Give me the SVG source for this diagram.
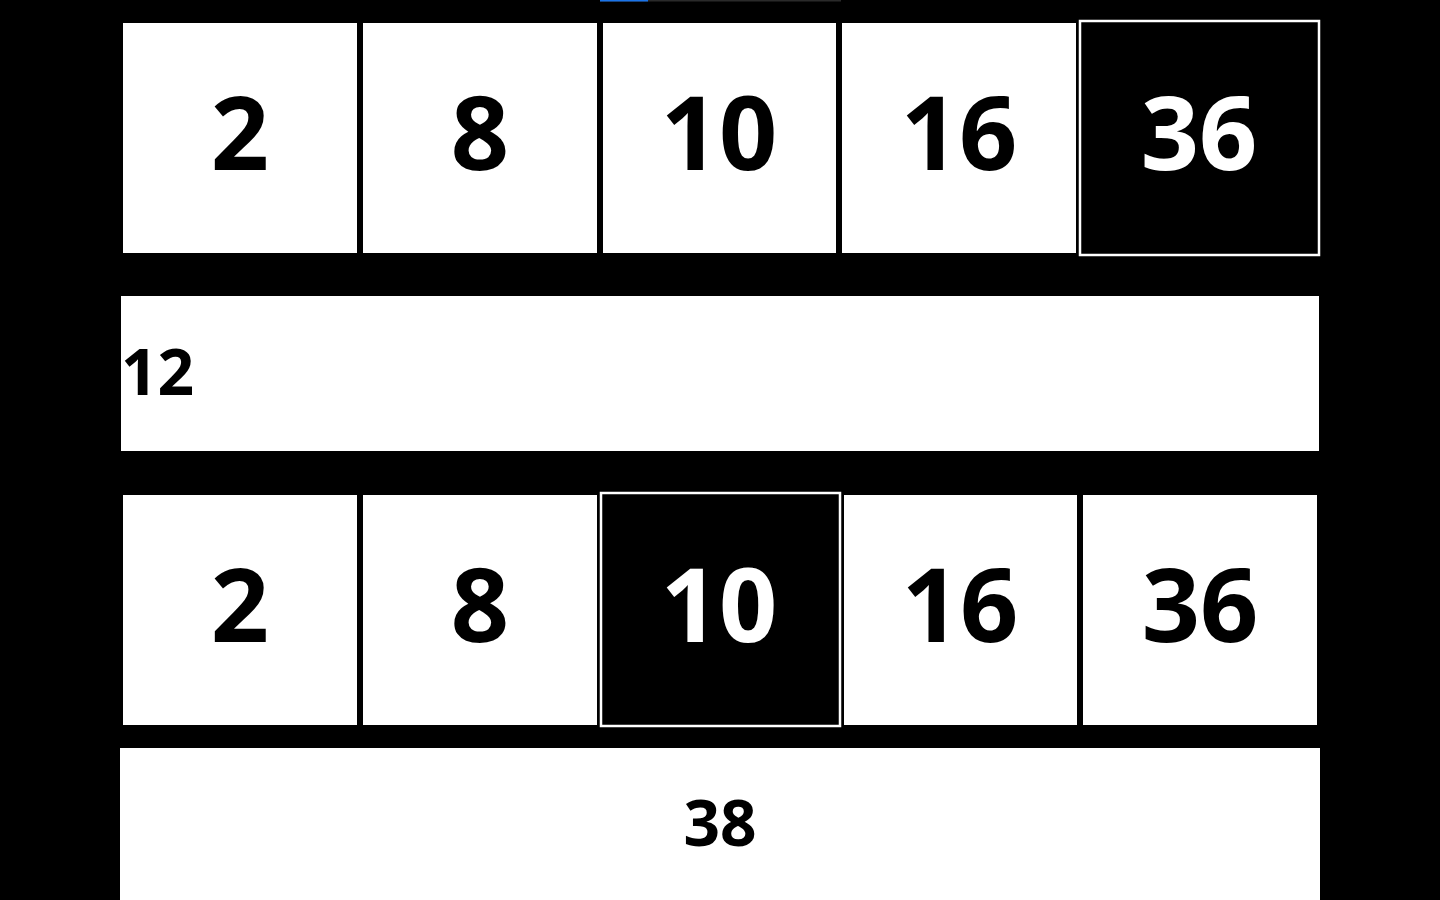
<svg xmlns="http://www.w3.org/2000/svg" width="1440" height="900" viewBox="0 0 1440 900">
<style>
.cell{fill:#ffffff}
.hl{fill:#000000;stroke:#ffffff;stroke-width:2.5}
.num{font-family:"Noto Sans","DejaVu Sans",sans-serif;font-weight:700;font-size:102px;text-anchor:middle;fill:#000}
.numw{fill:#fff}
.bar{fill:#ffffff}
.lbl{font-family:"Noto Sans","DejaVu Sans",sans-serif;font-weight:700;font-size:64px;fill:#000}
</style>
<rect x="0" y="0" width="1440" height="900" fill="#000"/>
<g id="progress">
<rect x="600" y="0" width="241" height="1.5" fill="#2a2a2a"/>
<rect x="600" y="0" width="48" height="1.5" fill="#1a73e8"/>
</g>
<g id="row1">
<g id="r1c1"><rect class="cell" x="123" y="23" width="234" height="230"/><text class="num" x="240" y="170">2</text></g>
<g id="r1c2"><rect class="cell" x="363" y="23" width="234" height="230"/><text class="num" x="480" y="170">8</text></g>
<g id="r1c3"><rect class="cell" x="603" y="23" width="233" height="230"/><text class="num" x="719" y="170">10</text></g>
<g id="r1c4"><rect class="cell" x="842" y="23" width="234" height="230"/><text class="num" x="959" y="170">16</text></g>
<g id="r1c5"><rect class="hl" x="1080" y="21" width="239" height="234"/><text class="num numw" x="1199" y="170">36</text></g>
</g>
<g id="sum1"><rect class="bar" x="121" y="296" width="1198" height="155"/><text class="lbl" x="121" y="395">12</text></g>
<g id="row2">
<g id="r2c1"><rect class="cell" x="123" y="495" width="234" height="230"/><text class="num" x="240" y="642">2</text></g>
<g id="r2c2"><rect class="cell" x="363" y="495" width="234" height="230"/><text class="num" x="480" y="642">8</text></g>
<g id="r2c3"><rect class="hl" x="601" y="493" width="239" height="233"/><text class="num numw" x="719" y="642">10</text></g>
<g id="r2c4"><rect class="cell" x="844" y="495" width="233" height="230"/><text class="num" x="960" y="642">16</text></g>
<g id="r2c5"><rect class="cell" x="1083" y="495" width="234" height="230"/><text class="num" x="1200" y="642">36</text></g>
</g>
<g id="sum2"><rect class="bar" x="120" y="748" width="1200" height="152"/><text class="lbl" x="720" y="846" text-anchor="middle">38</text></g>
</svg>
